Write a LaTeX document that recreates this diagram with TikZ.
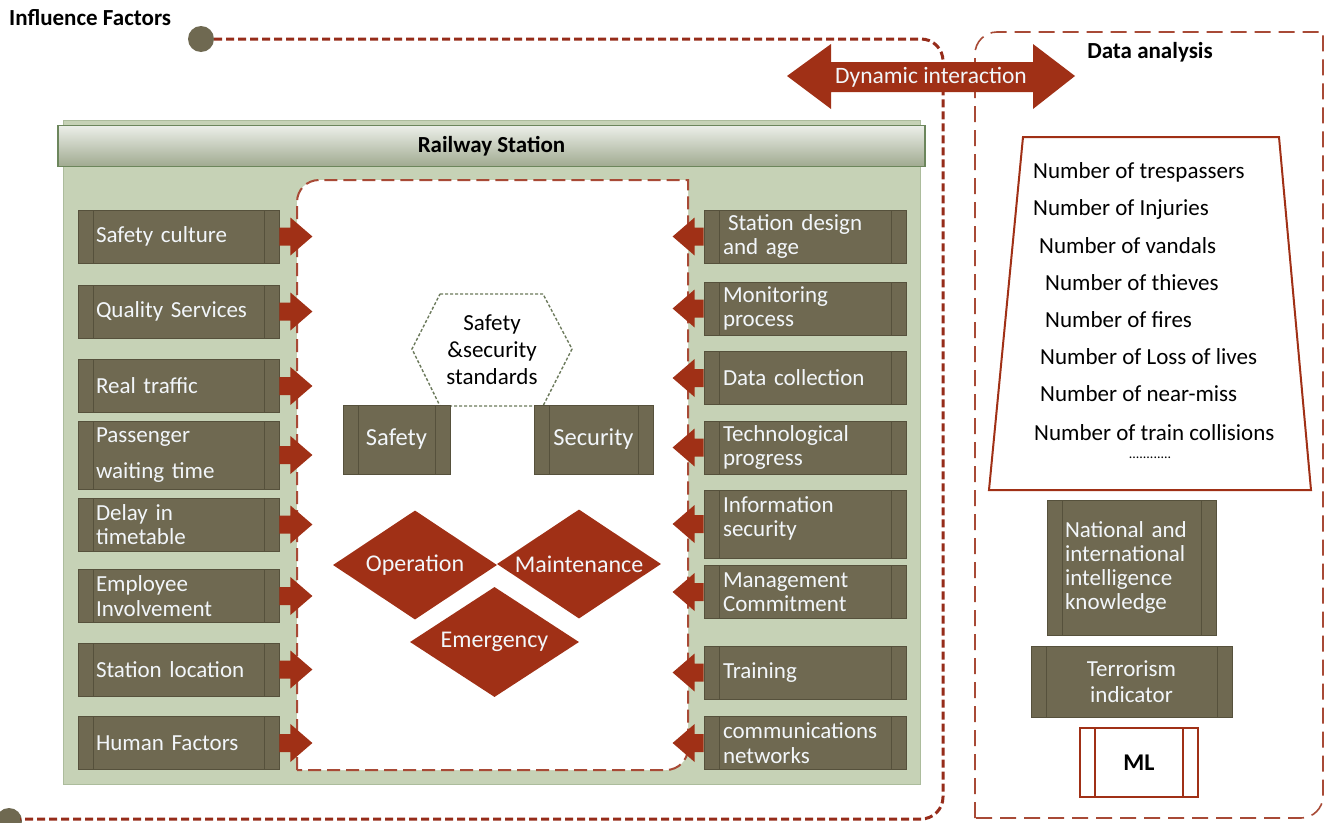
\documentclass[tikz,border=0pt]{standalone}
\usepackage{fontspec}
\setmainfont{Carlito}
\usetikzlibrary{shapes.geometric,calc}

\definecolor{brk}{RGB}{160,48,22}
\definecolor{olive}{RGB}{111,105,81}
\definecolor{olivedk}{RGB}{86,81,60}
\definecolor{panelg}{RGB}{198,210,182}
\definecolor{panelb}{RGB}{172,188,156}
\definecolor{hdtop}{RGB}{236,239,233}
\definecolor{hdbot}{RGB}{160,170,144}
\definecolor{hdbord}{RGB}{108,134,92}
\definecolor{boxtxt}{RGB}{242,246,250}
\definecolor{hexc}{RGB}{108,122,92}
\definecolor{dotline}{RGB}{150,44,26}
\definecolor{dashline}{RGB}{168,74,54}

\tikzset{
  factor/.style={draw=olivedk, line width=0.8pt, fill=olive, text=boxtxt,
    minimum height=53pt, inner ysep=0pt, font=\fontsize{23}{24.5}\selectfont,
    path picture={
      \draw[olivedk, line width=1pt] ([xshift=15pt]path picture bounding box.north west) -- ([xshift=15pt]path picture bounding box.south west);
      \draw[olivedk, line width=1pt] ([xshift=-15pt]path picture bounding box.north east) -- ([xshift=-15pt]path picture bounding box.south east);}},
  lbox/.style={factor, text width=165pt, align=left, inner xsep=18pt},
  rbox/.style={factor, text width=164pt, align=left, inner xsep=19pt},
  cbox/.style={factor, align=center, inner xsep=0pt},
  mlbox/.style={draw=brk, line width=1.2pt, fill=white, text=black, minimum width=118pt, minimum height=69pt,
    font=\fontsize{24}{26}\selectfont\bfseries,
    path picture={
      \draw[brk, line width=1.2pt] ([xshift=15pt]path picture bounding box.north west) -- ([xshift=15pt]path picture bounding box.south west);
      \draw[brk, line width=1.2pt] ([xshift=-15pt]path picture bounding box.north east) -- ([xshift=-15pt]path picture bounding box.south east);}},
  dia/.style={diamond, aspect=1.5, fill=brk, text=boxtxt, inner sep=0pt,
    minimum width=164pt, minimum height=109pt, font=\fontsize{24}{26}\selectfont},
  listtxt/.style={anchor=west, inner sep=0pt, text=black, font=\fontsize{23}{24}\selectfont},
  outerdot/.style={draw=dotline, line width=3pt, dash pattern=on 8pt off 4pt},
  datadash/.style={draw=dashline, line width=1.6pt, dash pattern=on 16pt off 8pt},
  innerdash/.style={draw=dashline, line width=2pt, dash pattern=on 13pt off 6pt},
}

\newcommand{\rightblock}[1]{\fill[brk] (#1.east) ++(0,-9) -- ++(11,0) -- ++(0,-10) -- ++(22,19) -- ++(-22,19) -- ++(0,-10) -- ++(-11,0) -- cycle;}
\newcommand{\leftblock}[1]{\fill[brk] (#1.west) ++(0,-9) -- ++(-9,0) -- ++(0,-10) -- ++(-22,19) -- ++(22,19) -- ++(0,-10) -- ++(9,0) -- cycle;}

\begin{document}
\begin{tikzpicture}[x=1pt,y=-1pt]
\useasboundingbox (0,0) rectangle (1336,822);
\fill[white] (0,0) rectangle (1336,822);

% title
\node[anchor=west, inner sep=0pt, font=\fontsize{23}{24}\selectfont\bfseries] (inf) at (9,18) {Influence Factors};

% railway panel
\filldraw[fill=panelg, draw=panelb, line width=1pt] (63,120) rectangle (920,784);
\node[draw=hdbord, line width=1.4pt, top color=hdtop, bottom color=hdbot, minimum width=867pt, minimum height=41pt,
      font=\fontsize{23}{24}\selectfont\bfseries, inner sep=0pt] (rs) at (491.5,146) {Railway Station};

% inner white area
\path[innerdash, fill=white] (297,770) -- (297,202) arc[start angle=180, end angle=270, radius=22]
  -- (688,180) -- (688,748) arc[start angle=0, end angle=90, radius=22] -- cycle;

% outer dotted line
\fill[olive] (201,39) circle (13);
\fill[olive] (9,821) circle (13);
\draw[outerdot] (214,39) -- (921,39) arc[start angle=-90, end angle=0, radius=22]
  -- (943,797) arc[start angle=0, end angle=90, radius=22] -- (20,819);

% data analysis frame
\draw[datadash] (975,818) -- (975,54) arc[start angle=180, end angle=270, radius=22]
  -- (1323,32) -- (1323,796) arc[start angle=0, end angle=90, radius=22] -- cycle;
\node[inner sep=0pt, font=\fontsize{23}{24}\selectfont\bfseries] (da) at (1150,52) {Data analysis};

% dynamic interaction arrow
\fill[brk] (787,76) -- (831,44) -- (831,62) -- (1033,62) -- (1033,44) -- (1075,76)
  -- (1033,109) -- (1033,92) -- (831,92) -- (831,109) -- cycle;
\node[text=boxtxt, inner sep=0pt, font=\fontsize{23.5}{24}\selectfont] (dyn) at (931,77) {Dynamic interaction};

% left factor boxes
\node[lbox] (l1) at (178.5,236.5) {Safety culture};
\node[lbox] (l2) at (178.5,311.5) {Quality Services};
\node[lbox] (l3) at (178.5,386) {Real traffic};
\node[lbox, minimum height=68pt] (l4) at (178.5,455) {Passenger\\[11pt]waiting time};
\node[lbox] (l5) at (178.5,524.5) {Delay in\\timetable};
\node[lbox] (l6) at (178.5,596) {Employee\\Involvement};
\node[lbox] (l7) at (178.5,669.5) {Station location};
\node[lbox] (l8) at (178.5,743) {Human Factors};
\foreach \n in {l1,l2,l3,l4,l5,l6,l7,l8} {\rightblock{\n}}

% right factor boxes
\node[rbox] (r1) at (805,236.5) {\hspace{5pt}Station design\\and age};
\node[rbox] (r2) at (805,308.5) {Monitoring\\process};
\node[rbox] (r3) at (805,378) {Data collection};
\node[rbox] (r4) at (805,447.5) {Technological\\progress};
\node[rbox, minimum height=68pt] (r5) at (805,524) {Information\\security\\[-10pt]\mbox{}};
\node[rbox] (r6) at (805,592) {Management\\Commitment};
\node[rbox] (r7) at (805,672.5) {Training};
\node[rbox] (r8) at (805,743) {communications\\networks};
\foreach \n in {r1,r2,r3,r4,r5,r6,r7,r8} {\leftblock{\n}}

% standards hexagon
\coordinate (stdc) at (492,350);
\filldraw[fill=white, draw=hexc, line width=1.4pt, dash pattern=on 3pt off 2pt]
  ($(stdc)+(-52,-56)$) -- ($(stdc)+(51,-56)$) -- ($(stdc)+(80,-1)$) -- ($(stdc)+(51,56)$)
  -- ($(stdc)+(-52,56)$) -- ($(stdc)+(-80,-1)$) -- cycle;
\node[align=center, inner sep=0pt, font=\fontsize{23}{27}\selectfont] (std) at (stdc) {Safety\\\&security\\standards};

\node[cbox, minimum width=107pt, minimum height=69pt, font=\fontsize{24.5}{26}\selectfont] (saf) at (396.5,439.5) {Safety};
\node[cbox, minimum width=119pt, minimum height=69pt, font=\fontsize{24.5}{26}\selectfont] (sec) at (593.5,439.5) {Security};

% diamonds
\node[dia] (op) at (415,565) {Operation};
\node[dia] (mt) at (579,564) {Maintenance};
\node[dia, minimum width=169pt, minimum height=110pt] (em) at (494.5,642) {Emergency};

% trapezoid list
\draw[brk, line width=2pt] (1023,137) -- (1279,137) -- (1311,490) -- (989,490) -- cycle;
\node[listtxt] (n1) at (1033,172) {Number of trespassers};
\node[listtxt] (n2) at (1033,209) {Number of Injuries};
\node[listtxt] (n3) at (1039,246) {Number of vandals};
\node[listtxt] (n4) at (1045,283) {Number of thieves};
\node[listtxt] (n5) at (1045,320) {Number of fires};
\node[listtxt] (n6) at (1040,357) {Number of Loss of lives};
\node[listtxt] (n7) at (1040,394) {Number of near-miss};
\node[listtxt] (n8) at (1034,433) {Number of train collisions};
\node[inner sep=0pt, font=\fontsize{14}{14}\selectfont] (n9) at (1150,458) {............};

% data analysis boxes
\node[factor, text width=133pt, align=left, inner xsep=18pt, minimum height=135pt, font=\fontsize{23}{24.3}\selectfont] (nat) at (1131.5,567.5)
  {National and\\international\\intelligence\\knowledge};
\node[cbox, minimum width=201pt, minimum height=71pt, font=\fontsize{23}{25.5}\selectfont] (ter) at (1131.5,681.5) {Terrorism\\indicator};
\node[mlbox] (ml) at (1139,762.5) {ML};
\end{tikzpicture}
\end{document}
